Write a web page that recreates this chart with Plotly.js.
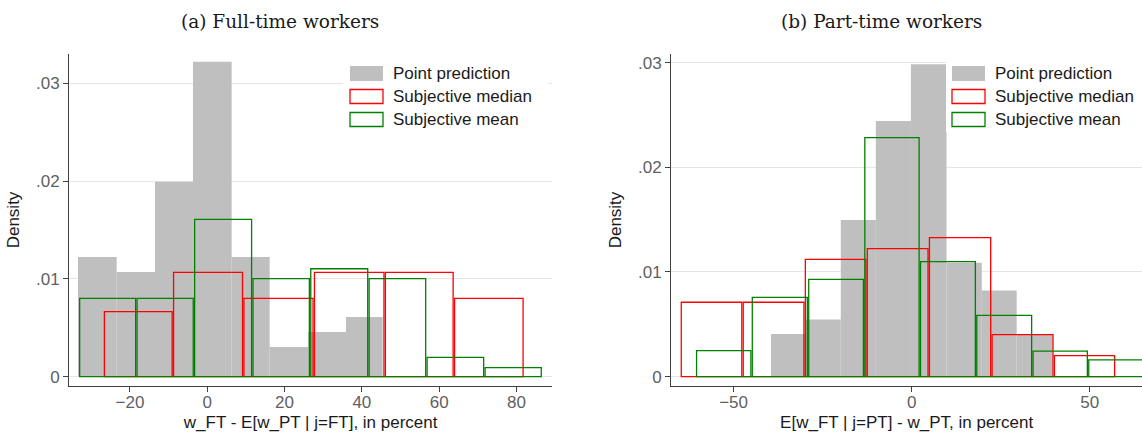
<!DOCTYPE html>
<html>
<head>
<meta charset="utf-8">
<script src="https://cdn.plot.ly/plotly-3.0.1.min.js"></script>
<style>html,body{margin:0;padding:0;background:#fff;}#chart{width:1142px;height:437px;}</style>
</head>
<body>
<div id="chart"></div>
<script>
// ---------- DATA ----------
// (a) Full-time workers: bin edges and densities
const ftPointEdges  = [-33.45, -23.44, -13.53, -3.70, 6.31, 16.14, 26.13, 35.89, 45.38];
const ftPointDens   = [0.01224, 0.0107, 0.01994, 0.0322, 0.01224, 0.00304, 0.00457, 0.0061];
const ftMedianEdges = [-26.8, -8.9, 9.3, 27.55, 45.9, 63.8, 81.9];
const ftMedianDens  = [0.00665, 0.01067, 0.00801, 0.01067, 0.01067, 0.00801];
const ftMeanEdges   = [-33.2, -18.35, -3.45, 11.65, 26.6, 41.7, 56.7, 71.7, 86.6];
const ftMeanDens    = [0.00801, 0.00801, 0.01609, 0.01002, 0.01104, 0.01002, 0.00198, 0.00092];

// (b) Part-time workers
const ptPointEdges  = [-39.5, -29.7, -19.9, -10.05, -0.2, 9.8, 19.7, 29.5, 39.6];
const ptPointDens   = [0.00408, 0.00545, 0.01497, 0.02442, 0.02984, 0.01089, 0.00822, 0.00398];
const ptMedianEdges = [-64.9, -47.5, -30.05, -12.65, 4.8, 22.4, 39.9, 57.2];
const ptMedianDens  = [0.00711, 0.00711, 0.01121, 0.01223, 0.01328, 0.00401, 0.00201];
const ptMeanEdges   = [-60.6, -44.95, -29.1, -13.35, 2.3, 18.1, 33.9, 49.55, 65.3];
const ptMeanDens    = [0.00248, 0.00758, 0.0093, 0.02283, 0.01098, 0.00586, 0.00245, 0.0016];

const yTickVals  = [0, 0.01, 0.02, 0.03];
const yTickText  = ['0', '.01', '.02', '.03'];
const ftXTicks   = [-20, 0, 20, 40, 60, 80];
const ptXTicks   = [-50, 0, 50];
const seriesNames = ['Point prediction', 'Subjective median', 'Subjective mean'];
const panelTitles = ['(a) Full-time workers', '(b) Part-time workers'];
const xTitles = ['w_FT - E[w_PT | j=FT], in percent', 'E[w_FT | j=PT] - w_PT, in percent'];
const yTitle = 'Density';

// ---------- LAYOUT GEOMETRY ----------
const W = 1142, H = 437;
const fx = p => p / W, fy = p => 1 - p / H;
const ftRange = [-35.7, 89.2], ptRange = [-67.5, 64.7];
const ftDom = [fx(69.3), fx(552)], ptDom = [fx(671.3), 1];
const yDom = [fy(386), fy(54)];
const ppuFT = (552 - 69.3) / (ftRange[1] - ftRange[0]);
const ppuPT = (1142 - 671.3) / (ptRange[1] - ptRange[0]);

const GRAY = '#bfbfbf', RED = '#ff0000', GREEN = '#008000';

function barTrace(edges, dens, xa, ya, ppu, style) {
  const gapU = style.outline ? 1.4 / ppu : 0;
  const x = [], w = [];
  for (let i = 0; i < dens.length; i++) {
    x.push((edges[i] + edges[i + 1]) / 2);
    w.push(edges[i + 1] - edges[i] - gapU);
  }
  return {
    type: 'bar', x: x, y: dens, width: w, xaxis: xa, yaxis: ya,
    marker: style.outline
      ? {color: 'rgba(0,0,0,0)', line: {color: style.color, width: 1.3}}
      : {color: style.color, line: {width: 0}},
    showlegend: false, hoverinfo: 'skip', cliponaxis: true
  };
}

const data = [
  barTrace(ftPointEdges, ftPointDens, 'x', 'y', ppuFT, {color: GRAY}),
  barTrace(ftMedianEdges, ftMedianDens, 'x', 'y', ppuFT, {color: RED, outline: true}),
  barTrace(ftMeanEdges, ftMeanDens, 'x', 'y', ppuFT, {color: GREEN, outline: true}),
  barTrace(ptPointEdges, ptPointDens, 'x2', 'y2', ppuPT, {color: GRAY}),
  barTrace(ptMedianEdges, ptMedianDens, 'x2', 'y2', ppuPT, {color: RED, outline: true}),
  barTrace(ptMeanEdges, ptMeanDens, 'x2', 'y2', ppuPT, {color: GREEN, outline: true})
];

const SANS = 'Arial';
const tickFont = {family: SANS, size: 17, color: '#5f5f5f'};
const titleFont = {family: SANS, size: 17, color: '#1a1a1a'};

function xAxis(dom, range, ticks, title, anchor) {
  return {
    domain: dom, range: range, anchor: anchor, tickmode: 'array', tickvals: ticks,
    showgrid: false, zeroline: false, showline: true, linecolor: '#404040', linewidth: 1.3,
    ticks: 'outside', ticklen: 5, tickwidth: 1, tickcolor: '#404040', tickfont: tickFont,
    ticklabelstandoff: -5,
    title: {text: title, font: titleFont, standoff: 5}, fixedrange: true
  };
}
function yAxis(range, anchor) {
  return {
    domain: yDom, range: range, anchor: anchor, tickmode: 'array',
    tickvals: yTickVals, ticktext: yTickText,
    showgrid: true, gridcolor: '#e6e6e6', gridwidth: 1, zeroline: false,
    showline: true, linecolor: '#404040', linewidth: 1.3,
    ticks: 'outside', ticklen: 5, tickwidth: 1, tickcolor: '#404040', tickfont: tickFont,
    title: {text: yTitle, font: titleFont, standoff: 12}, fixedrange: true
  };
}

// manual legends (wide swatches like the original)
const shapes = [], annotations = [];
function legend(boxL, boxR, swL, textL) {
  shapes.push({type: 'rect', xref: 'paper', yref: 'paper', x0: fx(boxL), x1: fx(boxR),
    y0: fy(132), y1: fy(56), fillcolor: '#ffffff', line: {width: 0}, layer: 'above'});
  const rows = [[66, 81, 73.5], [89.5, 103.5, 96.5], [112.5, 126.5, 119.5]];
  const styles = [
    {fillcolor: GRAY, line: {width: 0}},
    {fillcolor: 'rgba(0,0,0,0)', line: {color: RED, width: 1.3}},
    {fillcolor: 'rgba(0,0,0,0)', line: {color: GREEN, width: 1.3}}
  ];
  rows.forEach((r, i) => {
    shapes.push(Object.assign({type: 'rect', xref: 'paper', yref: 'paper', layer: 'above',
      x0: fx(swL), x1: fx(swL + 33), y0: fy(r[1]), y1: fy(r[0])}, styles[i]));
    annotations.push({xref: 'paper', yref: 'paper', x: fx(textL), y: fy(r[2]),
      xanchor: 'left', yanchor: 'middle', showarrow: false, text: seriesNames[i],
      font: {family: SANS, size: 17, color: '#1a1a1a'}});
  });
}
legend(343, 548, 350, 391);
legend(946, 1142, 952, 993);

const SERIF = 'DejaVu Serif';
[[280, panelTitles[0]], [881.5, panelTitles[1]]].forEach(t => {
  annotations.push({xref: 'paper', yref: 'paper', x: fx(t[0]), y: fy(22),
    xanchor: 'center', yanchor: 'middle', showarrow: false, text: t[1],
    font: {family: SERIF, size: 18.5, color: '#1a1a1a'}});
});

const layout = {
  width: W, height: H, margin: {l: 0, r: 0, t: 0, b: 0},
  paper_bgcolor: '#ffffff', plot_bgcolor: '#ffffff',
  barmode: 'overlay', showlegend: false,
  xaxis: xAxis(ftDom, ftRange, ftXTicks, xTitles[0], 'y'),
  yaxis: yAxis([-0.00095, 0.033], 'x'),
  xaxis2: xAxis(ptDom, ptRange, ptXTicks, xTitles[1], 'y2'),
  yaxis2: yAxis([-0.00089, 0.03082], 'x2'),
  shapes: shapes, annotations: annotations
};

Plotly.newPlot('chart', data, layout, {staticPlot: true, displayModeBar: false});
</script>
</body>
</html>
